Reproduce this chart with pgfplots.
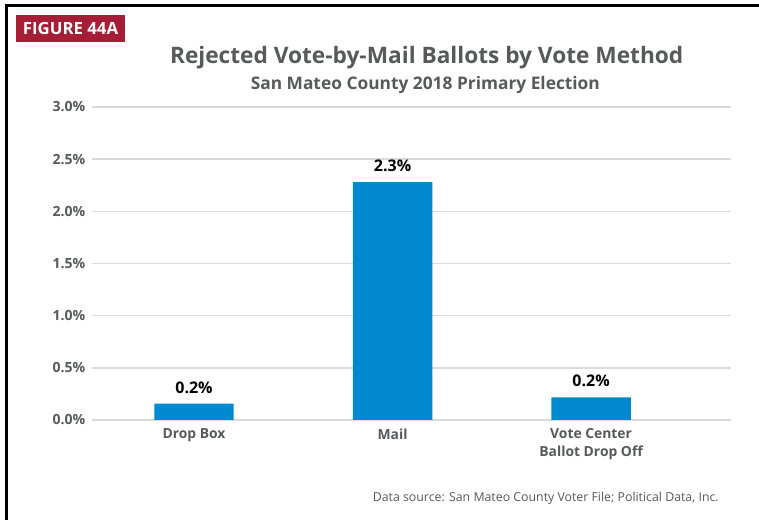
\documentclass[border=0pt]{standalone}
\usepackage{pgfplots}
\pgfplotsset{compat=1.18}
\usepackage{fontspec}
\setmainfont{Open Sans}
\definecolor{txtgray}{HTML}{58595B}
\definecolor{barblue}{HTML}{0089CF}
\definecolor{figred}{HTML}{A51E36}
\definecolor{gridgray}{HTML}{DADADA}
\begin{document}
\begin{tikzpicture}
\path[use as bounding box] (0,0) rectangle (569.25pt,390pt);
\fill[white] (0,0) rectangle (569.25pt,390pt);
% frame
\draw[black, line width=2.3pt] (4.9pt,0) -- (4.9pt,386pt) -- (569.25pt,386pt);
% figure label
\fill[figred] (12pt,358.5pt) rectangle (93.75pt,378.75pt);
\node[text=white, font=\bfseries\fontsize{12.6}{14}\selectfont, anchor=center] at (52.9pt,368.4pt) {FIGURE 44A};
% titles
\node[text=txtgray, font=\bfseries\fontsize{17}{20}\selectfont, anchor=base] at (320pt,342pt) {Rejected Vote-by-Mail Ballots by Vote Method};
\node[text=txtgray, font=\bfseries\fontsize{13}{15}\selectfont, anchor=base] at (319pt,323pt) {San Mateo County 2018 Primary Election};
% source
\node[text=txtgray, font=\fontsize{9.25}{11}\selectfont, anchor=base east, inner sep=0pt] at (539.25pt,14pt) {Data source: San Mateo County Voter File; Political Data, Inc.};
\begin{axis}[
  at={(69pt,75pt)}, anchor=south west,
  scale only axis, width=479.25pt, height=234.75pt,
  ymin=0, ymax=3, xmin=-0.514, xmax=2.705,
  ytick={0,0.5,1,1.5,2,2.5,3},
  ymajorgrids, grid style={gridgray, line width=1.1pt},
  axis line style={draw=none},
  major tick length=0pt,
  xtick={0,1,2},
  xticklabels={Drop Box, Mail, {Vote Center\\Ballot Drop Off}},
  xticklabel style={align=center, font=\bfseries\fontsize{10.4}{13.5}\selectfont, text=txtgray, yshift=-3pt},
  yticklabel={\pgfmathprintnumber[fixed,precision=1,fixed zerofill]{\tick}\%},
  yticklabel style={font=\bfseries\fontsize{10.5}{12}\selectfont, text=txtgray, xshift=-1.5pt},
  /pgf/number format/assume math mode=true,
  ybar, bar width=0.4,
  nodes near coords={\pgfmathprintnumber[fixed,precision=1,fixed zerofill]{\pgfplotspointmeta}\%},
  nodes near coords style={font=\bfseries\fontsize{12}{14}\selectfont, text=black, yshift=4pt},
]
\addplot[fill=barblue, draw=none] coordinates {(0,0.156) (1,2.279) (2,0.218)};
\end{axis}
\end{tikzpicture}
\end{document}
